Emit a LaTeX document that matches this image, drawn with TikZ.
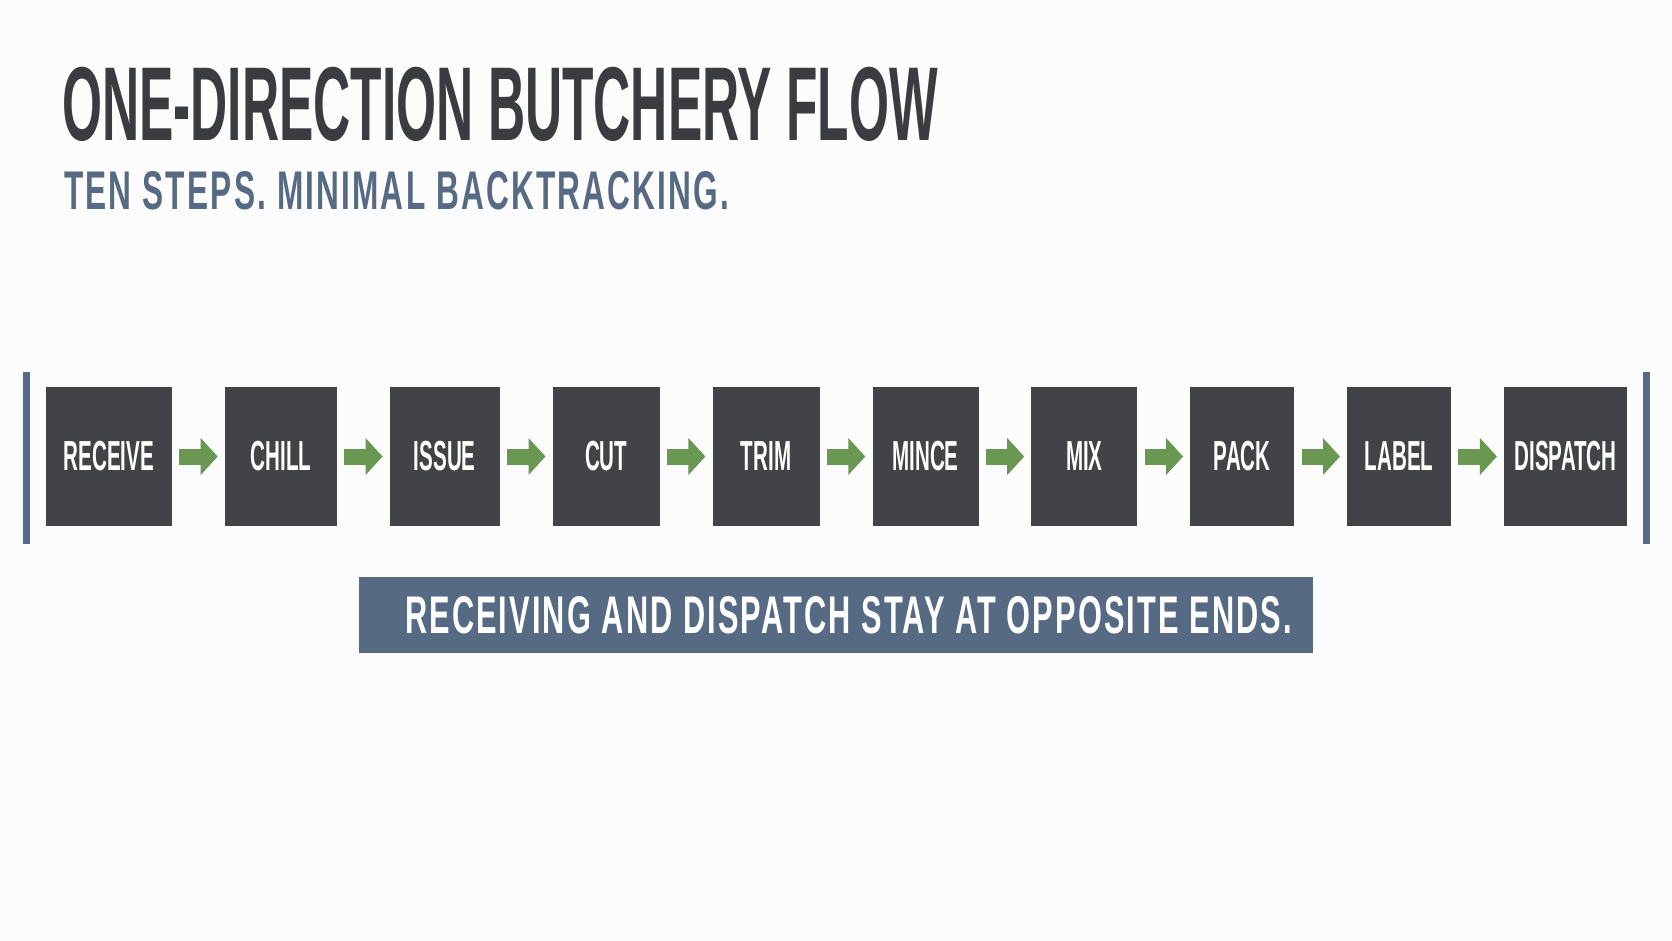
\documentclass[tikz,border=0pt]{standalone}
\usepackage{fontspec}
\newfontfamily\headfont[FakeStretch=0.49]{Liberation Sans}
\newfontfamily\notefont[FakeStretch=0.58, LetterSpace=4]{Liberation Sans}
\usetikzlibrary{positioning,arrows.meta}
\definecolor{pagewhite}{RGB}{252,252,252}
\definecolor{titlegrey}{RGB}{58,60,63}
\definecolor{boxgrey}{RGB}{66,67,70}
\definecolor{slateblue}{RGB}{86,106,132}
\definecolor{flowgreen}{RGB}{106,152,82}
\tikzset{
  stepbox/.style={fill=boxgrey, text=white, minimum height=139pt, inner sep=0pt,
    font=\headfont\bfseries\fontsize{42}{42}\selectfont},
  flowarrow/.style={draw=flowgreen, line width=16pt, -{Triangle[width=36pt,length=17pt]},
    shorten <=7pt, shorten >=7pt},
  banner/.style={fill=slateblue, text=white, minimum width=954pt, minimum height=76pt,
    inner sep=0pt, font=\notefont\bfseries\fontsize{53}{53}\selectfont},
}
\begin{document}
\begin{tikzpicture}[x=1pt, y=-1pt, node distance=52.5pt]
    \useasboundingbox[fill=pagewhite] (0,0) rectangle (1672,941);
    % title and subtitle
    \node[anchor=base west, inner sep=0pt, text=titlegrey,
      font=\headfont\bfseries\fontsize{105}{105}\selectfont] (title) at (62,141) {ONE-DIRECTION BUTCHERY FLOW};
    \node[anchor=base west, inner sep=0pt, text=slateblue,
      font=\notefont\bfseries\fontsize{54.5}{54.5}\selectfont] (subtitle) at (64,210) {TEN STEPS. MINIMAL BACKTRACKING.};
    % end bars
    \draw[slateblue, line width=7pt] (26,372) -- (26,544);
    \draw[slateblue, line width=7pt] (1646.5,372) -- (1646.5,544);
    % the ten steps
    \node[stepbox, minimum width=126pt] (receive) at (109,456.5) {RECEIVE};
    \node[stepbox, minimum width=112pt, right=of receive] (chill) {CHILL};
    \node[stepbox, minimum width=110pt, right=of chill] (issue) {ISSUE};
    \node[stepbox, minimum width=107pt, right=of issue] (cut) {CUT};
    \node[stepbox, minimum width=107pt, right=of cut] (trim) {TRIM};
    \node[stepbox, minimum width=106pt, right=of trim] (mince) {MINCE};
    \node[stepbox, minimum width=106pt, right=of mince] (mix) {MIX};
    \node[stepbox, minimum width=104pt, right=of mix] (pack) {PACK};
    \node[stepbox, minimum width=104pt, right=of pack] (label) {LABEL};
    \node[stepbox, minimum width=123pt, right=of label] (dispatch) {DISPATCH};
    % green arrows
    \draw[flowarrow] (receive) -- (chill);
    \draw[flowarrow] (chill) -- (issue);
    \draw[flowarrow] (issue) -- (cut);
    \draw[flowarrow] (cut) -- (trim);
    \draw[flowarrow] (trim) -- (mince);
    \draw[flowarrow] (mince) -- (mix);
    \draw[flowarrow] (mix) -- (pack);
    \draw[flowarrow] (pack) -- (label);
    \draw[flowarrow] (label) -- (dispatch);
    % note below
    \node[banner] (note) at (836,615) {\hspace*{25pt}RECEIVING AND DISPATCH STAY AT OPPOSITE ENDS.};
\end{tikzpicture}
\end{document}
